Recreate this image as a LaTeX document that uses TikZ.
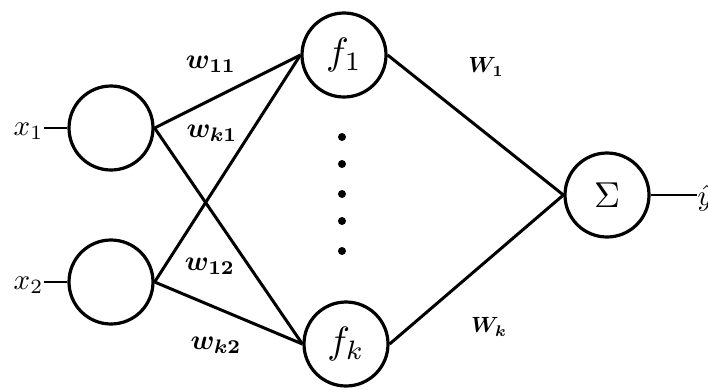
\documentclass[tikz,border=0pt]{standalone}
\usepackage{graphicx}
\usepackage{amsmath}
\newcommand{\bigtxt}[2][2.8]{\scalebox{#1}{#2}}
\begin{document}
\begin{tikzpicture}[x=1pt,y=-1pt,
    neuron/.style={circle,draw,line width=3.2pt,minimum size=84pt,inner sep=0pt},
    io/.style={inner sep=0.5pt},
    wt/.style={font=\boldmath}]
  \useasboundingbox (0,0) rectangle (708,389);
  \draw
    (111,128) node[neuron] (in1){}
    (111,282) node[neuron] (in2){}
    (344,55) node[neuron] (f1){\bigtxt[3.8]{$f_1$}}
    (346,344) node[neuron] (fk){\bigtxt[3.8]{$f_k$}}
    (607,195) node[neuron] (sum){\bigtxt[3.6]{$\Sigma$}};
  % inputs and output
  \node[io,anchor=east] (x1) at (44,131) {\bigtxt[2.9]{$x_1$}};
  \node[io,anchor=east] (x2) at (44,285) {\bigtxt[2.9]{$x_2$}};
  \node[io,anchor=west] (yhat) at (697,198) {\bigtxt[2.9]{$\hat{y}$}};
  \draw[line width=1.8pt] (x1.east |- in1.west) -- (in1.west);
  \draw[line width=1.8pt] (x2.east |- in2.west) -- (in2.west);
  \draw[line width=1.8pt] (sum.east) -- (yhat.west |- sum.east);
  % hidden layer is elided
  \foreach \y in {137,164,194,221,251}
    \fill (342,\y) circle (4);
  \begin{scope}[line width=3pt]
    \draw (in1.east) to (f1.west);
    \draw (in1.east) to (fk.west);
    \draw (in2.east) to (f1.west);
    \draw (in2.east) to (fk.west);
    \draw (f1.east) to (sum.west);
    \draw (fk.east) to (sum.west);
  \end{scope}
  % weights
  \node[wt] (w11) at (211,64) {\bigtxt{$w_{11}$}};
  \node[wt] (wk1) at (212,133) {\bigtxt{$w_{k1}$}};
  \node[wt] (w12) at (210,266) {\bigtxt{$w_{12}$}};
  \node[wt] (wk2) at (216,345) {\bigtxt{$w_{k2}$}};
  \node[wt] (W1) at (486,67) {\bigtxt[2.2]{$W_1$}};
  \node[wt] (Wk) at (489,327) {\bigtxt[2.2]{$W_k$}};
\end{tikzpicture}
\end{document}
